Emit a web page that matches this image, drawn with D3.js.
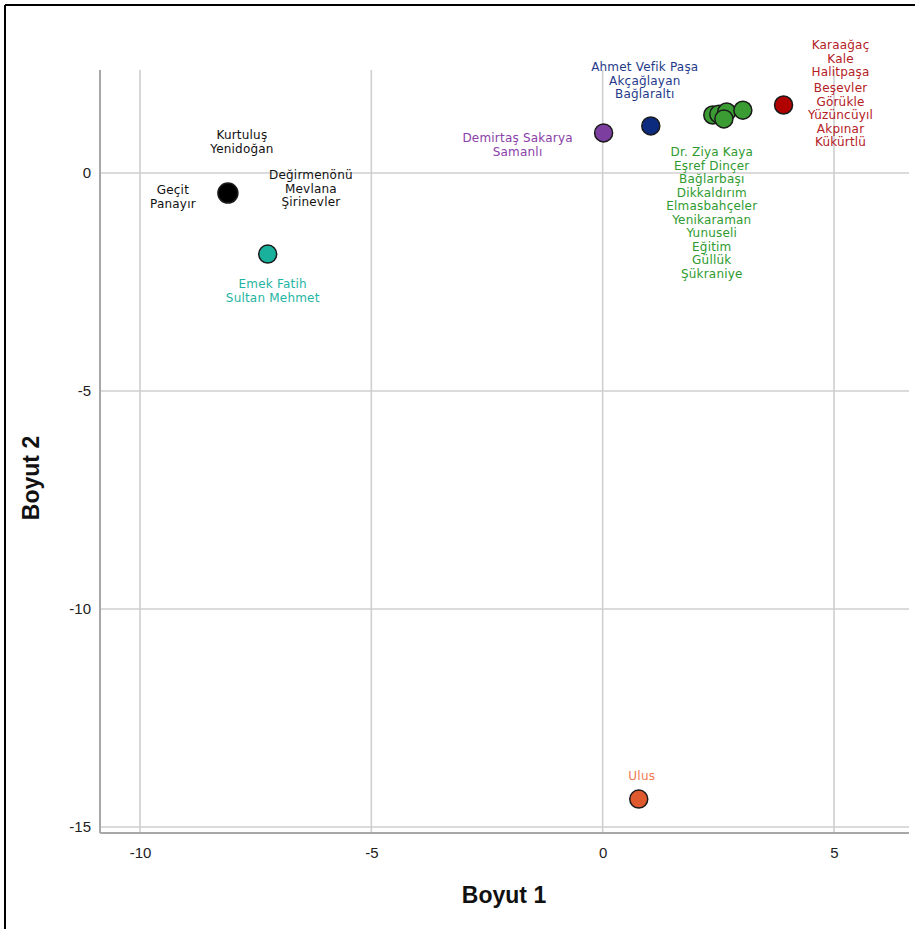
<!DOCTYPE html>
<html><head><meta charset="utf-8">
<script src="https://cdn.jsdelivr.net/npm/d3@7/dist/d3.min.js"></script>
<style>body{margin:0;background:#fff}svg{display:block}</style>
</head><body><svg id="c" width="915" height="929"></svg>
<script>
// ---- data ----
const xTicks = [-10, -5, 0, 5];
const yTicks = [0, -5, -10, -15];
const xTitle = "Boyut 1";
const yTitle = "Boyut 2";

const clusterColors = ["#000000", "#19b09c", "#7d3f9f", "#0c2a7e", "#3b9c33", "#b00000", "#e05a30"];
const labelColors   = ["#111111", "#1fb5a3", "#8a40a8", "#1f3a8a", "#2f9a2f", "#b42025", "#f07a50"];

const pointX       = [-8.10, -7.24, 0.02, 1.04, 2.38, 2.51, 2.68, 2.62, 3.03, 3.91, 0.78];
const pointY       = [-0.46, -1.86, 0.92, 1.08, 1.33, 1.35, 1.40, 1.24, 1.44, 1.56, -14.36];
const pointCluster = [0, 1, 2, 3, 4, 4, 4, 4, 4, 5, 6];

const labelText = [
  ["Kurtuluş", "Yenidoğan"],
  ["Geçit", "Panayır"],
  ["Değirmenönü", "Mevlana", "Şirinevler"],
  ["Emek Fatih", "Sultan Mehmet"],
  ["Demirtaş Sakarya", "Samanlı"],
  ["Ahmet Vefik Paşa", "Akçağlayan", "Bağlaraltı"],
  ["Dr. Ziya Kaya", "Eşref Dinçer", "Bağlarbaşı", "Dikkaldırım", "Elmasbahçeler", "Yenikaraman", "Yunuseli", "Eğitim", "Güllük", "Şükraniye"],
  ["Karaağaç", "Kale", "Halitpaşa"],
  ["Beşevler", "Görükle", "Yüzüncüyıl", "Akpınar", "Kükürtlü"],
  ["Ulus"]
];
const labelPoint = [0, 0, 0, 1, 2, 3, 4, 9, 9, 10];
// layout offsets (pixels) of each label block from its point
const labelDx = [14, -55, 83, 5, -86, -6, -1, 57, 57, 3];
const labelDy = [-58, -3, -18, 30, 5, -59, 37, -60, -17, -23];

// ---- layout ----
const svg = d3.select("#c");
const L = 100, R = 909, T = 70, B = 833;
const x = d3.scaleLinear().domain([-10, 5]).range([140, 834]);
const y = d3.scaleLinear().domain([0, -15]).range([173, 827]);

// frame
svg.append("line").attr("x1", 5).attr("x2", 915).attr("y1", 5).attr("y2", 5).attr("stroke", "#000").attr("stroke-width", 2);
svg.append("line").attr("x1", 5).attr("x2", 5).attr("y1", 5).attr("y2", 929).attr("stroke", "#000").attr("stroke-width", 2);

// grid
const g = svg.append("g");
g.selectAll(".vg").data(xTicks).join("line")
  .attr("x1", d => x(d)).attr("x2", d => x(d)).attr("y1", T).attr("y2", B)
  .attr("stroke", "#cfcfcf").attr("stroke-width", 1.6);
g.selectAll(".hg").data(yTicks).join("line")
  .attr("x1", L).attr("x2", R).attr("y1", d => y(d)).attr("y2", d => y(d))
  .attr("stroke", "#cfcfcf").attr("stroke-width", 1.6);

// axes via d3 axis
const fmt = d => String(d);
const xAxis = svg.append("g").attr("transform", `translate(0,${B})`)
  .call(d3.axisBottom(x).tickValues(xTicks).tickSize(0).tickPadding(14).tickFormat(fmt));
const yAxis = svg.append("g").attr("transform", `translate(${L},0)`)
  .call(d3.axisLeft(y).tickValues(yTicks).tickSize(0).tickPadding(9).tickFormat(fmt));
[xAxis, yAxis].forEach(a => {
  a.select(".domain").remove();
  a.selectAll("text").attr("font-family", "Liberation Sans, Arial, sans-serif").attr("font-size", 15).attr("fill", "#222");
});
svg.append("line").attr("x1", L).attr("x2", R).attr("y1", B).attr("y2", B).attr("stroke", "#a8a8a8").attr("stroke-width", 2);
svg.append("line").attr("x1", L).attr("x2", L).attr("y1", T).attr("y2", B).attr("stroke", "#a8a8a8").attr("stroke-width", 2);

// titles
svg.append("text").attr("x", 504).attr("y", 903).attr("text-anchor", "middle")
  .attr("font-family", "Liberation Sans, Arial, sans-serif").attr("font-weight", "bold").attr("font-size", 23).attr("fill", "#111").text(xTitle);
svg.append("text").attr("transform", "translate(39,478) rotate(-90)").attr("text-anchor", "middle")
  .attr("font-family", "Liberation Sans, Arial, sans-serif").attr("font-weight", "bold").attr("font-size", 23).attr("fill", "#111").text(yTitle);

// points
svg.append("g").selectAll("circle").data(pointX.map((v, i) => i)).join("circle")
  .attr("cx", i => x(pointX[i])).attr("cy", i => y(pointY[i]))
  .attr("r", i => pointCluster[i] === 0 ? 10 : 9)
  .attr("fill", i => clusterColors[pointCluster[i]])
  .attr("stroke", "#1a1a1a").attr("stroke-width", 1.5);

// labels
const lh = 13.5;
const lg = svg.append("g").attr("font-family", "DejaVu Sans, Verdana, sans-serif").attr("font-size", 12).attr("text-anchor", "middle");
labelText.forEach((lines, k) => {
  const pi = labelPoint[k];
  const cx = x(pointX[pi]) + labelDx[k];
  const cy = y(pointY[pi]) + labelDy[k];
  const col = labelColors[pointCluster[pi]];
  lines.forEach((t, j) => {
    lg.append("text").attr("x", cx).attr("y", cy + j * lh).attr("dy", "0.35em")
      .attr("fill", col).attr("letter-spacing", 0.2).text(t);
  });
});
</script></body></html>
